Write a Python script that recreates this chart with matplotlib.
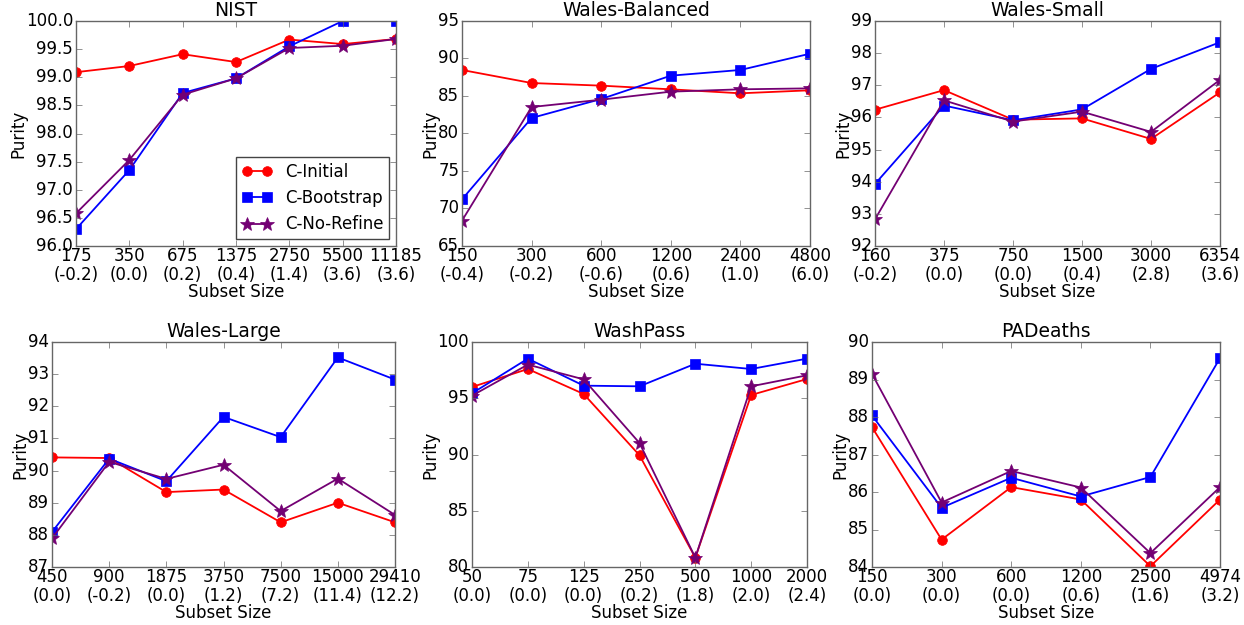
import numpy as np
import matplotlib
matplotlib.use('Agg')
import matplotlib.pyplot as plt

plt.style.use('classic')

# series names
names = ['C-Initial', 'C-Bootstrap', 'C-No-Refine']

# NIST
nist_sizes = ['175', '350', '675', '1375', '2750', '5500', '11185']
nist_delta = ['-0.2', '0.0', '0.2', '0.4', '1.4', '3.6', '3.6']
nist_init = [99.09, 99.20, 99.41, 99.27, 99.67, 99.59, 99.68]
nist_boot = [96.30, 97.35, 98.72, 98.98, 99.55, 100.0, 100.0]
nist_noref = [96.58, 97.53, 98.69, 98.98, 99.52, 99.56, 99.68]

# Wales-Balanced
wb_sizes = ['150', '300', '600', '1200', '2400', '4800']
wb_delta = ['-0.4', '-0.2', '-0.6', '0.6', '1.0', '6.0']
wb_init = [88.47, 86.73, 86.38, 85.89, 85.36, 85.76]
wb_boot = [71.22, 82.07, 84.60, 87.71, 88.47, 90.64]
wb_noref = [68.38, 83.53, 84.51, 85.58, 85.89, 86.02]

# Wales-Small
ws_sizes = ['160', '375', '750', '1500', '3000', '6354']
ws_delta = ['-0.2', '0.0', '0.0', '0.4', '2.8', '3.6']
ws_init = [96.24, 96.85, 95.93, 95.97, 95.33, 96.78]
ws_boot = [93.93, 96.37, 95.91, 96.25, 97.51, 98.34]
ws_noref = [92.83, 96.53, 95.87, 96.18, 95.55, 97.17]

# Wales-Large
wl_sizes = ['450', '900', '1875', '3750', '7500', '15000', '29410']
wl_delta = ['0.0', '-0.2', '0.0', '1.2', '7.2', '11.4', '12.2']
wl_init = [90.41, 90.39, 89.33, 89.41, 88.39, 89.00, 88.39]
wl_boot = [88.09, 90.37, 89.67, 91.67, 91.04, 93.52, 92.83]
wl_noref = [87.89, 90.27, 89.74, 90.18, 88.74, 89.75, 88.62]

# WashPass
wp_sizes = ['50', '75', '125', '250', '500', '1000', '2000']
wp_delta = ['0.0', '0.0', '0.0', '0.2', '1.8', '2.0', '2.4']
wp_init = [96.00, 97.60, 95.38, 89.93, 80.83, 95.29, 96.71]
wp_boot = [95.44, 98.52, 96.12, 96.06, 98.07, 97.60, 98.52]
wp_noref = [95.23, 97.99, 96.68, 91.02, 80.83, 96.06, 97.04]

# PADeaths
pa_sizes = ['150', '300', '600', '1200', '2500', '4974']
pa_delta = ['0.0', '0.0', '0.0', '0.6', '1.6', '3.2']
pa_init = [87.73, 84.73, 86.13, 85.80, 84.02, 85.80]
pa_boot = [88.04, 85.58, 86.38, 85.88, 86.40, 89.57]
pa_noref = [89.15, 85.72, 86.56, 86.12, 84.37, 86.13]

panels = [
    ('NIST', nist_sizes, nist_delta, [nist_init, nist_boot, nist_noref], (96, 100), np.arange(96, 100.01, 0.5), '%.1f'),
    ('Wales-Balanced', wb_sizes, wb_delta, [wb_init, wb_boot, wb_noref], (65, 95), np.arange(65, 96, 5), '%d'),
    ('Wales-Small', ws_sizes, ws_delta, [ws_init, ws_boot, ws_noref], (92, 99), np.arange(92, 100, 1), '%d'),
    ('Wales-Large', wl_sizes, wl_delta, [wl_init, wl_boot, wl_noref], (87, 94), np.arange(87, 95, 1), '%d'),
    ('WashPass', wp_sizes, wp_delta, [wp_init, wp_boot, wp_noref], (80, 100), np.arange(80, 101, 5), '%d'),
    ('PADeaths', pa_sizes, pa_delta, [pa_init, pa_boot, pa_noref], (84, 90), np.arange(84, 91, 1), '%d'),
]

# axes boxes in pixels: left, right, top, bottom
W, H = 1244, 625
boxes = [(76, 396, 21, 246), (462, 810, 21, 246), (875, 1220, 21, 246),
         (52, 395, 342, 567), (472, 807, 342, 567), (872, 1220, 342, 567)]

colors = ['red', 'blue', '#730073']
markers = ['o', 's', '*']
msizes = [7, 7, 10]

fig = plt.figure(figsize=(W / 100, H / 100), dpi=100, facecolor='white')

for (title, sizes, delta, series, ylim, yticks, fmt), (l, r, t, b) in zip(panels, boxes):
    ax = fig.add_axes([l / W, 1 - b / H, (r - l) / W, (b - t) / H])
    x = np.arange(len(sizes))
    for vals, name, c, m, ms in zip(series, names, colors, markers, msizes):
        ax.plot(x, vals, color=c, marker=m, markersize=ms, linewidth=1.3,
                markeredgecolor=c, markeredgewidth=0.5, label=name)
    ax.set_xlim(0, len(sizes) - 1)
    ax.set_ylim(*ylim)
    ax.set_xticks(x)
    ax.set_xticklabels(['%s\n(%s)' % (s, d) for s, d in zip(sizes, delta)],
                       fontsize=12, linespacing=1.05)
    ax.set_yticks(yticks)
    ax.set_yticklabels([fmt % v for v in yticks], fontsize=12)
    ax.set_title(title, fontsize=13.5, y=0.99)
    ax.set_xlabel('Subset Size', fontsize=12, labelpad=-1)
    ax.set_ylabel('Purity', fontsize=12, labelpad=-1)
    ax.tick_params(axis='x', direction='in', length=4, color='#666666', pad=1)
    ax.tick_params(axis='y', direction='in', length=4, color='#666666', pad=2)
    for sp in ax.spines.values():
        sp.set_color('#666666')
    if title == 'NIST':
        leg = ax.legend(loc='lower right', fontsize=12, numpoints=2,
                        borderaxespad=0.4, handlelength=1.8, borderpad=0.35)
        leg.get_frame().set_edgecolor('#444444')

fig.savefig('out.png', dpi=100, facecolor='white')
